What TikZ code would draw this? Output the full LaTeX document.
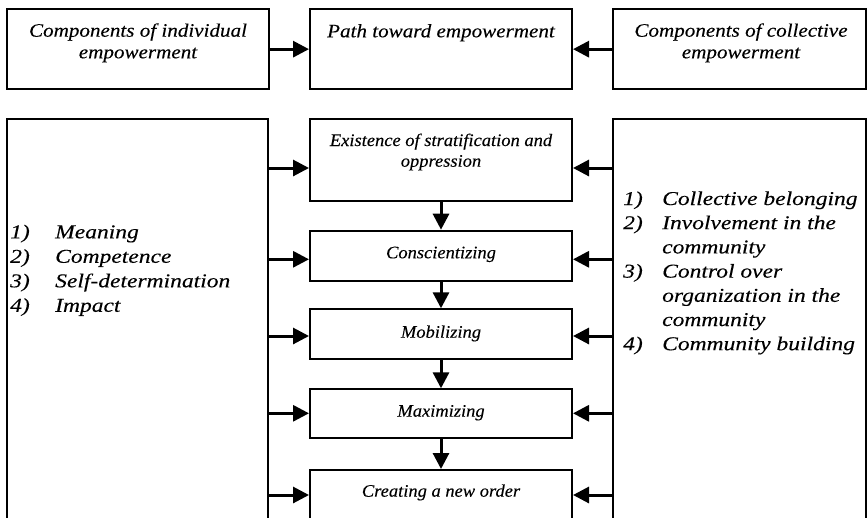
\documentclass[tikz,border=0pt]{standalone}
\usepackage{fontspec}
\setmainfont{Liberation Serif}
\newfontfamily\headfont{Liberation Serif}[FakeStretch=1.11, FakeBold=0.15]
\newfontfamily\stepfont{Liberation Serif}[FakeStretch=1.05, FakeBold=0.15]
\newfontfamily\listfont{Liberation Serif}[FakeStretch=1.2, FakeBold=0.15]
\usetikzlibrary{arrows.meta}

\tikzset{
  frame/.style={draw, line width=2pt, rectangle, inner sep=0pt},
  conn/.style={line width=3pt, -{Triangle[length=16pt,width=16pt]}},
  headtext/.style={anchor=base, inner sep=0pt,
    font=\headfont\itshape\fontsize{19}{21.6}\selectfont},
  steptext/.style={anchor=base, inner sep=0pt,
    font=\stepfont\itshape\fontsize{17.6}{21}\selectfont},
  listtext/.style={anchor=base west, inner sep=0pt,
    font=\listfont\itshape\fontsize{19.6}{24.4}\selectfont},
}

\begin{document}
\begin{tikzpicture}[x=1pt, y=-1pt]
  \clip (0,0) rectangle (867,517);
  \fill[white] (0,0) rectangle (867,517);

  % header row
  \node[frame, minimum width=262pt, minimum height=79.7pt] (indiv) at (138,49.15) {};
  \node[frame, minimum width=262pt, minimum height=79.7pt] (path)  at (441,49.15) {};
  \node[frame, minimum width=253pt, minimum height=79.7pt] (coll)  at (739.5,49.15) {};

  \node[headtext] (indiv1) at (138,36.7) {Components of individual};
  \node[headtext] (indiv2) at (138,58.3) {empowerment};
  \node[headtext] (path1)  at (441,37.3) {Path toward empowerment};
  \node[headtext] (coll1)  at (741,36.7) {Components of collective};
  \node[headtext] (coll2)  at (741,58.3) {empowerment};

  \draw[conn] (indiv.east) -- (path.west);
  \draw[conn] (coll.west) -- (path.east);

  % side columns
  \node[frame, minimum width=261pt, minimum height=425.7pt] (left)  at (137.5,332.15) {};
  \node[frame, minimum width=253pt, minimum height=425.7pt] (right) at (739.5,332.15) {};

  % steps of the path
  \node[frame, minimum width=262pt, minimum height=81.4pt] (s1) at (441,160) {};
  \node[frame, minimum width=262pt, minimum height=50pt]   (s2) at (441,255.7) {};
  \node[frame, minimum width=262pt, minimum height=50pt]   (s3) at (441,334.3) {};
  \node[frame, minimum width=262pt, minimum height=49pt]   (s4) at (441,413.8) {};
  \node[frame, minimum width=262pt, minimum height=75pt]   (s5) at (441,507.5) {};

  \node[steptext] (s1a) at (441,146)   {Existence of stratification and};
  \node[steptext] (s1b) at (441,166.7) {oppression};
  \node[steptext] (s2t) at (441,258.3) {Conscientizing};
  \node[steptext] (s3t) at (441,337.7) {Mobilizing};
  \node[steptext] (s4t) at (441,416.7) {Maximizing};
  \node[steptext] (s5t) at (441,496.7) {Creating a new order};

  % flow between the steps
  \draw[conn] (s1.south) -- (s2.north);
  \draw[conn] (s2.south) -- (s3.north);
  \draw[conn] (s3.south) -- (s4.north);
  \draw[conn] (s4.south) -- (s5.north);

  % inputs from both columns into every step
  \foreach \st/\yy in {s1/168, s2/259.3, s3/336, s4/413.3, s5/495} {
    \draw[conn] (left.east |- 0,\yy) -- (\st.west |- 0,\yy);
    \draw[conn] (right.west |- 0,\yy) -- (\st.east |- 0,\yy);
  }

  % individual components
  \node[listtext] (i1) at (10,238.3) {\makebox[45pt][l]{1)}Meaning};
  \node[listtext] (i2) at (10,262.8) {\makebox[45pt][l]{2)}Competence};
  \node[listtext] (i3) at (10,287.3) {\makebox[45pt][l]{3)}Self-determination};
  \node[listtext] (i4) at (10,311.8) {\makebox[45pt][l]{4)}Impact};

  % collective components
  \node[listtext] (c1) at (623,205)   {\makebox[39pt][l]{1)}Collective belonging};
  \node[listtext] (c2) at (623,229.2) {\makebox[39pt][l]{2)}Involvement in the};
  \node[listtext] (c2b) at (623,253.4) {\makebox[39pt][l]{}community};
  \node[listtext] (c3) at (623,277.6) {\makebox[39pt][l]{3)}Control over};
  \node[listtext] (c3b) at (623,301.8) {\makebox[39pt][l]{}organization in the};
  \node[listtext] (c3c) at (623,326)   {\makebox[39pt][l]{}community};
  \node[listtext] (c4) at (623,350.2) {\makebox[39pt][l]{4)}Community building};
\end{tikzpicture}
\end{document}
